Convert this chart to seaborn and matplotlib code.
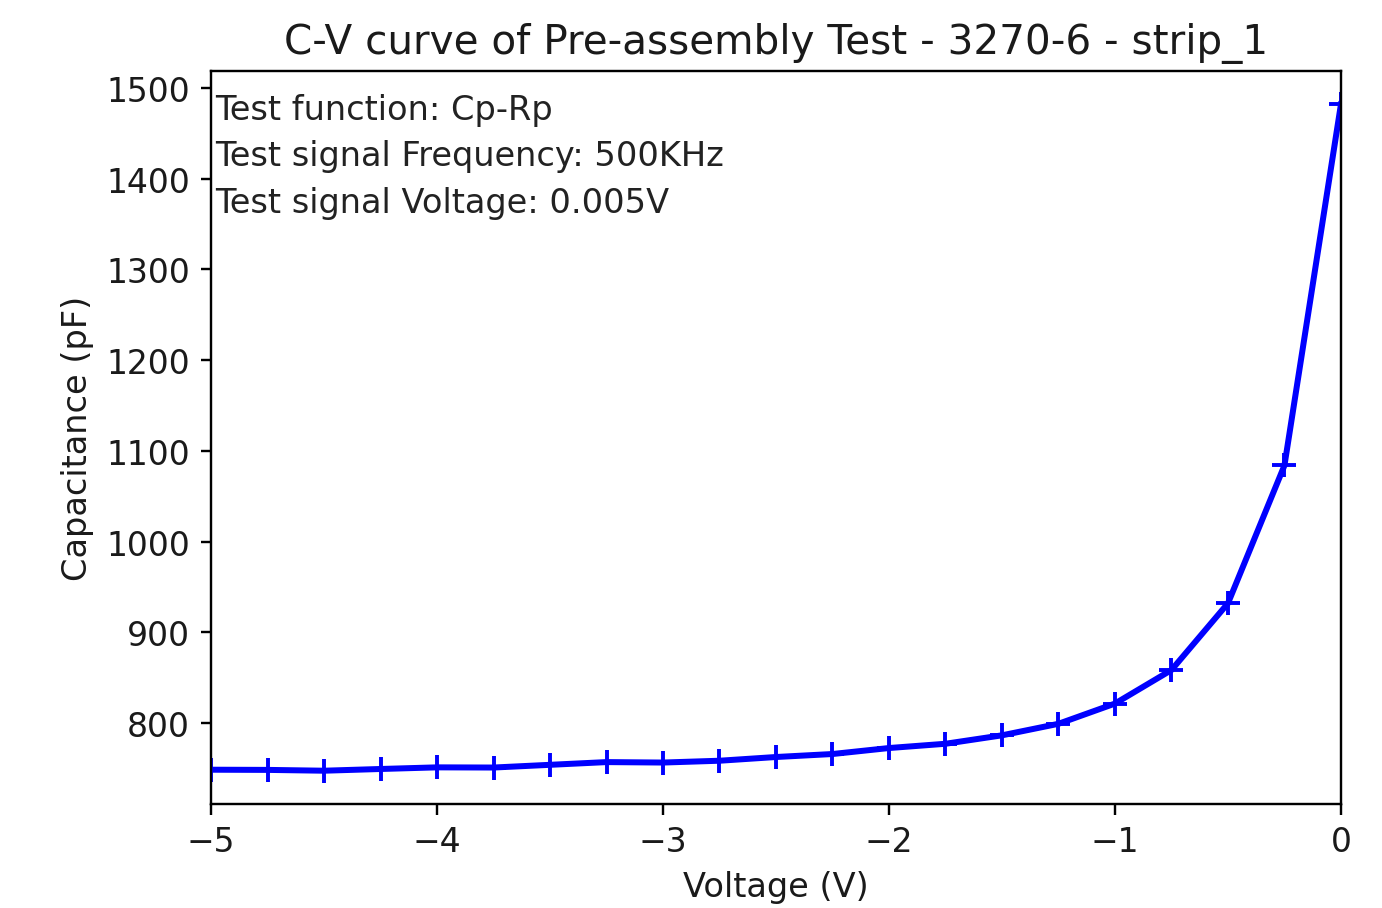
import matplotlib
matplotlib.use("Agg")
import matplotlib.pyplot as plt
import seaborn as sns
import pandas as pd

voltage = [-5.0, -4.75, -4.5, -4.25, -4.0, -3.75, -3.5, -3.25, -3.0, -2.75, -2.5,
           -2.25, -2.0, -1.75, -1.5, -1.25, -1.0, -0.75, -0.5, -0.25, 0.0]
capacitance = [748.6, 748.4, 747.5, 749.4, 751.2, 751.0, 754.0, 757.0, 756.5, 758.5, 762.6,
               765.9, 772.5, 777.2, 786.5, 799.2, 821.5, 858.5, 932.0, 1084.0, 1482.0]
info_lines = ["Test function: Cp-Rp",
              "Test signal Frequency: 500KHz",
              "Test signal Voltage: 0.005V"]
title = "C-V curve of Pre-assembly Test - 3270-6 - strip_1"

df = pd.DataFrame({"Voltage": voltage, "Capacitance": capacitance})

plt.rcParams['font.family'] = ['DejaVu Sans']
fig = plt.figure(figsize=(1382 / 216, 909 / 216), dpi=216)
ax = fig.add_axes([0.1527, 0.1144, 0.9703 - 0.1527, 0.9208 - 0.1144])

sns.lineplot(data=df, x="Voltage", y="Capacitance", ax=ax, color="#0000ff",
             marker="+", markersize=8, markeredgewidth=1.3, markeredgecolor="#0000ff",
             linewidth=2.0)

ax.set_xlim(-5, 0)
ax.set_ylim(710.8, 1518.7)
ax.set_xticks([-5, -4, -3, -2, -1, 0])
ax.set_yticks([800, 900, 1000, 1100, 1200, 1300, 1400, 1500])
ax.set_xlabel("Voltage (V)", fontsize=11.2, color="#1a1a1a")
ax.set_ylabel("Capacitance (pF)", fontsize=11.2, color="#1a1a1a")
ax.set_title(title, fontsize=13.5, color="#1a1a1a")
ax.tick_params(labelsize=11, labelcolor="#1a1a1a")

for i, line in enumerate(info_lines):
    ax.text(0.004, 0.948 - i * 0.0634, line, transform=ax.transAxes,
            fontsize=11.2, va="center", ha="left", color="#222222")

fig.savefig("out.png", dpi=216)
